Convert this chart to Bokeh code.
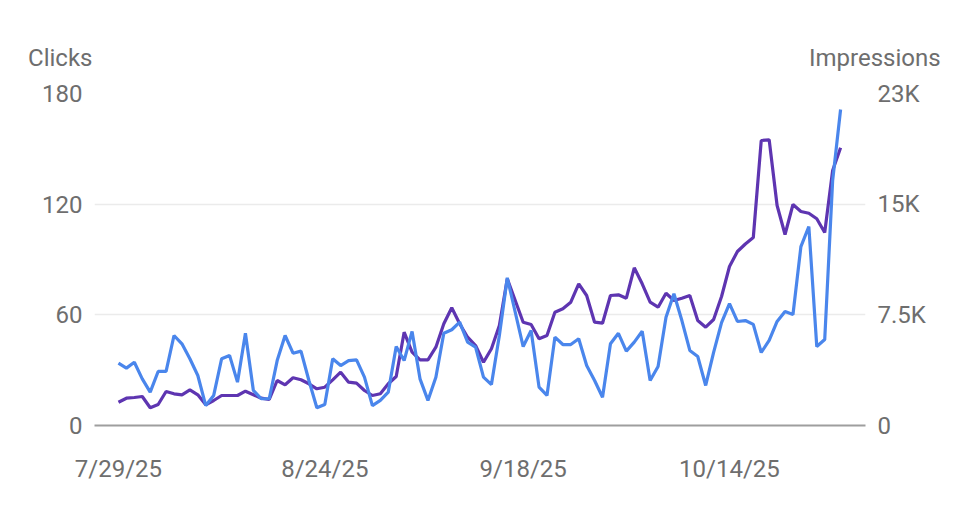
from bokeh.plotting import figure
from bokeh.models import Range1d, LinearAxis, FixedTicker, Label
from bokeh.embed import file_html
from bokeh.resources import INLINE

days = list(range(92))
tick_days = [0, 26, 51, 77]
tick_labels = ["7/29/25", "8/24/25", "9/18/25", "10/14/25"]

clicks = [33.8, 31.1, 34.3, 25.3, 18.1, 29.3, 29.3, 48.8, 44.3, 36.2,
          27.1, 10.8, 16.3, 36.2, 38.0, 23.5, 50.0, 19.0, 14.5, 14.5,
          35.2, 48.8, 39.2, 40.3, 24.4, 9.6, 11.4, 36.2, 32.5, 35.2,
          35.6, 26.2, 10.8, 13.6, 18.1, 42.8, 35.2, 51.0, 25.3, 13.6,
          26.2, 50.0, 51.9, 56.0, 45.2, 42.5, 26.2, 22.2, 48.8, 80.1,
          61.4, 42.8, 51.5, 20.8, 16.3, 47.9, 43.9, 43.9, 47.0, 32.5,
          24.4, 15.3, 44.3, 50.0, 40.3, 45.2, 51.1, 24.4, 32.0, 58.7,
          71.4, 56.9, 40.7, 37.4, 21.7, 39.6, 55.8, 66.1, 56.4, 56.9,
          54.8, 39.6, 46.1, 56.4, 61.8, 60.2, 97.0, 107.9, 42.8, 46.6,
          132.8, 171.3]

impressions = [1579, 1850, 1898, 1965, 1200, 1423, 2304, 2148, 2081, 2419,
               2081, 1403, 1694, 2033, 2033, 2033, 2324, 2081, 1850, 1762,
               3050, 2758, 3233, 3097, 2826, 2487, 2596, 3097, 3612, 2934,
               2867, 2372, 2033, 2148, 2826, 3321, 6323, 4967, 4452, 4452,
               5306, 6892, 7977, 6892, 5984, 5422, 4290, 5198, 6777, 9942,
               8471, 7001, 6845, 5876, 6099, 7678, 7909, 8356, 9603, 8810,
               7001, 6933, 8810, 8858, 8627, 10687, 9603, 8356, 8017, 8966,
               8471, 8627, 8810, 7116, 6662, 7184, 8742, 10775, 11792, 12300,
               12741, 19314, 19362, 14909, 12944, 14977, 14503, 14388, 14008, 13080,
               17281, 18820]

left_ticks = [0, 60, 120, 180]
right_ticks = [0, 7500, 15000, 22500]
right_labels = ["0", "7.5K", "15K", "23K"]

FONT = "Roboto"
TXT = "#6e6e6e"
FS = "24px"

p = figure(width=960, height=492, output_backend="svg", toolbar_location=None,
           x_range=Range1d(-3.02, 94.14), y_range=Range1d(0, 180),
           min_border_left=94, min_border_right=95, min_border_top=93,
           min_border_bottom=67)
p.outline_line_color = None
p.background_fill_color = "white"
p.border_fill_color = "white"
p.extra_y_ranges = {"imp": Range1d(0, 22500)}

p.line(days, impressions, y_range_name="imp", line_color="#5e35b1", line_width=3.2)
p.line(days, clicks, line_color="#4a86ec", line_width=3.2)

xa = p.xaxis[0]
xa.ticker = FixedTicker(ticks=tick_days)
xa.major_label_overrides = {d: l for d, l in zip(tick_days, tick_labels)}
xa.axis_line_color = "#9e9e9e"
xa.axis_line_width = 2
xa.major_tick_line_color = None
xa.minor_tick_line_color = None
xa.major_tick_out = 0
xa.major_tick_in = 0
xa.major_label_standoff = 29
xa.major_label_text_font = FONT
xa.major_label_text_font_size = FS
xa.major_label_text_color = TXT

ya = p.yaxis[0]
ya.ticker = FixedTicker(ticks=left_ticks)
ya.axis_line_color = None
ya.major_tick_line_color = None
ya.minor_tick_line_color = None
ya.major_tick_out = 0
ya.major_tick_in = 0
ya.major_label_standoff = 12
ya.major_label_text_font = FONT
ya.major_label_text_font_size = FS
ya.major_label_text_color = TXT

ra = LinearAxis(y_range_name="imp", ticker=FixedTicker(ticks=right_ticks))
ra.major_label_overrides = {t: l for t, l in zip(right_ticks, right_labels)}
ra.axis_line_color = None
ra.major_tick_line_color = None
ra.minor_tick_line_color = None
ra.major_tick_out = 0
ra.major_tick_in = 0
ra.major_label_standoff = 12
ra.major_label_text_font = FONT
ra.major_label_text_font_size = FS
ra.major_label_text_color = TXT
p.add_layout(ra, "right")

p.xgrid.grid_line_color = None
p.ygrid.ticker = FixedTicker(ticks=left_ticks)
p.ygrid.grid_line_color = "#ebebeb"
p.ygrid.grid_line_width = 1.5

p.add_layout(Label(x=-3.28, y=199, text="Clicks", text_align="right",
                   text_baseline="middle", text_font=FONT, text_font_size=FS,
                   text_color=TXT), "above")
p.add_layout(Label(x=103.6, y=199, text="Impressions", text_align="right",
                   text_baseline="middle", text_font=FONT, text_font_size=FS,
                   text_color=TXT), "above")

open("out.html", "w").write(file_html(p, INLINE))
